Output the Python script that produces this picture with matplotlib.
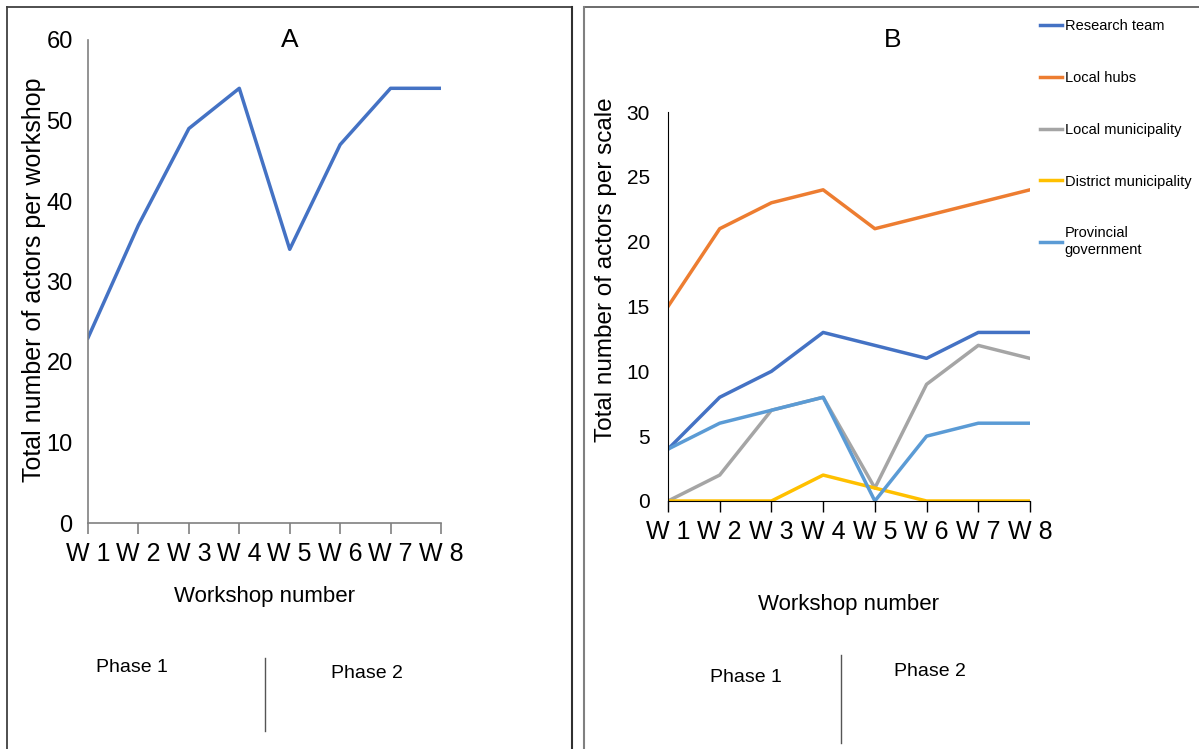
import numpy as np
import matplotlib
matplotlib.use('Agg')
import matplotlib.pyplot as plt
from matplotlib.lines import Line2D

plt.rcParams['font.family'] = ['Liberation Sans', 'DejaVu Sans']

# data ------------------------------------------------------------------------
workshops = ['W 1', 'W 2', 'W 3', 'W 4', 'W 5', 'W 6', 'W 7', 'W 8']
total_actors = [23, 37, 49, 54, 34, 47, 54, 54]

scale_names = ['Research team', 'Local hubs', 'Local municipality',
               'District municipality', 'Provincial\ngovernment']
research_team = [4, 8, 10, 13, 12, 11, 13, 13]
local_hubs = [15, 21, 23, 24, 21, 22, 23, 24]
local_municipality = [0, 2, 7, 8, 1, 9, 12, 11]
district_municipality = [0, 0, 0, 2, 1, 0, 0, 0]
provincial_government = [4, 6, 7, 8, 0, 5, 6, 6]
scale_series = [research_team, local_hubs, local_municipality,
                district_municipality, provincial_government]
scale_colors = ['#4472C4', '#ED7D31', '#A5A5A5', '#FFC000', '#5B9BD5']

W, H = 1199, 749
fig = plt.figure(figsize=(W / 100, H / 100), dpi=100)

def fx(px):
    return px / W

def fy(py):
    return 1 - py / H

# panel frames
fig.add_artist(Line2D([fx(7), fx(572)], [fy(7), fy(7)], color='#404040', lw=1.3))
fig.add_artist(Line2D([fx(7), fx(7)], [fy(7), fy(749)], color='#404040', lw=1.3))
fig.add_artist(Line2D([fx(572), fx(572)], [fy(7), fy(749)], color='#303030', lw=1.5))
fig.add_artist(Line2D([fx(584), fx(1199)], [fy(7), fy(7)], color='#606060', lw=1.3))
fig.add_artist(Line2D([fx(584), fx(584)], [fy(7), fy(749)], color='#808080', lw=1.5))

x = np.arange(len(workshops))

# panel A ---------------------------------------------------------------------
axA = fig.add_axes([fx(88), fy(523), fx(441) - fx(88), fy(40) - fy(523)])
axA.plot(x, total_actors, color='#4472C4', lw=2.5)
axA.set_xlim(0, 7)
axA.set_ylim(0, 60)
axA.set_yticks(range(0, 61, 10))
axA.set_xticks(x)
axA.set_xticklabels(workshops, fontsize=18)
axA.tick_params(axis='y', length=0, labelsize=17, pad=11)
axA.tick_params(axis='x', length=8, color='#808080', width=1.2, pad=6)
for s in ['top', 'right']:
    axA.spines[s].set_visible(False)
axA.spines['left'].set_color('#808080')
axA.spines['bottom'].set_color('#808080')
axA.spines['left'].set_linewidth(1.2)
axA.spines['bottom'].set_linewidth(1.2)
axA.set_ylabel('Total number of actors per workshop', fontsize=18)
axA.yaxis.set_label_coords(-0.118, 0.503)
axA.set_xlabel('Workshop number', fontsize=16, labelpad=14)
fig.text(fx(290), fy(40), 'A', fontsize=19, ha='center', va='center')

fig.text(fx(132), fy(668), 'Phase 1', fontsize=14, ha='center', va='center')
fig.text(fx(367), fy(673), 'Phase 2', fontsize=14, ha='center', va='center')
fig.add_artist(Line2D([fx(265), fx(265)], [fy(658), fy(731)], color='#555555', lw=1))

# panel B ---------------------------------------------------------------------
axB = fig.add_axes([fx(668), fy(501), fx(1030) - fx(668), fy(112) - fy(501)])
for vals, name, col in zip(scale_series, scale_names, scale_colors):
    axB.plot(x, vals, color=col, lw=2.5, label=name)
axB.set_xlim(0, 7)
axB.set_ylim(0, 30)
axB.set_yticks(range(0, 31, 5))
axB.set_xticks(x)
axB.set_xticklabels(workshops, fontsize=18)
axB.tick_params(axis='y', length=0, labelsize=15, pad=13)
axB.tick_params(axis='x', length=8, color='black', width=1, pad=6)
for s in ['top', 'right']:
    axB.spines[s].set_visible(False)
axB.spines['left'].set_color('black')
axB.spines['bottom'].set_color('black')
axB.set_ylabel('Total number of actors per scale', fontsize=17.5)
axB.yaxis.set_label_coords(-0.140, 0.594)
axB.set_xlabel('Workshop number', fontsize=16, labelpad=36)
fig.text(fx(893), fy(40), 'B', fontsize=19, ha='center', va='center')

leg = axB.legend(loc='upper left', bbox_to_anchor=(fx(1034), fy(13)),
                 bbox_transform=fig.transFigure, frameon=False, fontsize=10.5,
                 handlelength=1.5, handletextpad=0.2, labelspacing=2.6,
                 borderaxespad=0)

fig.text(fx(746), fy(677), 'Phase 1', fontsize=14, ha='center', va='center')
fig.text(fx(930), fy(672), 'Phase 2', fontsize=14, ha='center', va='center')
fig.add_artist(Line2D([fx(841), fx(841)], [fy(655), fy(743)], color='#555555', lw=1))

fig.savefig('out.png', dpi=100)
